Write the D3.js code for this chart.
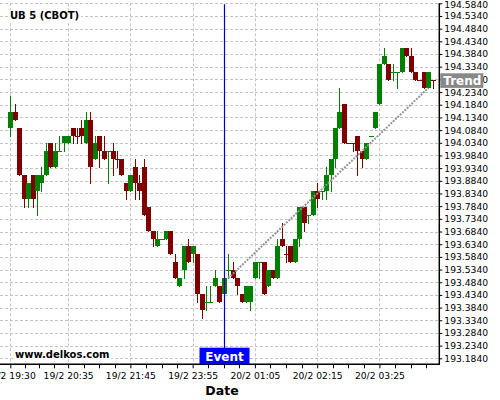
<!DOCTYPE html>
<html>
<head>
<meta charset="utf-8">
<script src="https://cdn.jsdelivr.net/npm/d3@7"></script>
<style>
  html, body { margin: 0; padding: 0; background: #fff; }
  svg { display: block; font-family: "DejaVu Sans", sans-serif; }
</style>
</head>
<body>
<svg id="chart" width="500" height="400"></svg>
<script>
// ---- data (prices in 1/32 ticks relative to BASE) ----
const BASE = 194;
const TICK = 1 / 32;
const title = "UB 5 (CBOT)";
const opens = [3,5,3,-3,-6,-3,-5,-4,-3,1, -2,0,1,1,3,2,3,1,4,-1, 2,0,0,0,-1,-1,-4,-5,-2,-4,
  -2,-7,-10,-12,-11,-11,-10,-14,-17,-15, -12,-13,-13,-18,-19,-19,-17,-17,-18,-15,
  -15,-16,-18,-19,-19,-16,-14,-14,-17,-15, -16,-11,-13,-12,-14,-11,-7,-8,-8,-5,
  -5,-5,-3,-1,3,6,1,1,2,0, -1,2,3,6,11,11,10,10,10,13, 12,10,9,10,8,9];
const highs = [7,6,3,-3,-4,-3,-3,-2,1,1, 1,2,2,2,3,3,4,5,5,2, 2,2,0,1,0,-1,-4,-3,-1,-3,
  -1,-7,-10,-10,-11,-10,-10,-13,-16,-12, -11,-12,-13,-18,-17,-17,-15,-17,-16,-13,
  -14,-16,-18,-17,-17,-14,-14,-14,-15,-15, -11,-9,-12,-12,-11,-7,-7,-8,-5,-4,
  -5,-2,-1,3,8,6,1,1,2,0, 1,2,5,11,13,11,11,10,13,13, 13,10,9,10,10,9];
const lows = [2,4,-3,-7,-7,-7,-8,-5,-3,-2, -2,0,0,1,1,1,1,1,-4,-1, -2,-1,-4,-3,-2,-3,-6,-5,-6,-6,
  -8,-10,-12,-12,-11,-11,-13,-16,-17,-16, -14,-14,-19,-21,-20,-19,-17,-19,-18,-16,
  -16,-18,-19,-19,-20,-16,-16,-18,-17,-16, -16,-12,-14,-14,-14,-12,-10,-9,-8,-7,
  -6,-6,-5,-2,3,1,1,0,-3,-2, -1,2,3,6,11,9,9,8,10,12, 10,9,9,8,8,8];
const closes = [5,4,-3,-6,-4,-6,-3,-3,0,-2, 0,0,2,2,2,2,2,4,-2,1, 0,-1,0,-1,-1,-3,-5,-3,-4,-5,
  -8,-10,-11,-11,-11,-10,-13,-16,-16,-12, -14,-12,-18,-20,-19,-19,-16,-19,-16,-15,
  -16,-17,-19,-17,-17,-14,-14,-18,-15,-16, -12,-12,-13,-14,-11,-7,-9,-8,-5,-6,
  -5,-3,-1,3,5,1,1,1,0,-1, 1,2,5,11,12,9,10,10,13,12, 10,9,9,8,10,9];
// indices of flat (open == close) candles drawn in the "up" colour
const flatUp = [11,22,34,44,45,49,56,67,70,81,86,87];

const xTickIndex = [0, 13, 27, 41, 55, 69, 83];
const xTickLabels = ["19/2 19:30","19/2 20:35","19/2 21:45","19/2 23:55","20/2 01:05","20/2 02:15","20/2 03:25"];
const yTickLabels = ["193.1840","193.2340","193.2840","193.3340","193.3840","193.4340","193.4840","193.5340",
  "193.5840","193.6340","193.6840","193.7340","193.7840","193.8340","193.8840","193.9340","193.9840",
  "194.0340","194.0840","194.1340","194.1840","194.2340","194.2840","194.3340","194.3840","194.4340",
  "194.4840","194.5340","194.5840"];
const eventIndex = 48;
const eventLabel = "Event";
const trendIdx = [49, 94];
const trendTicks = [-16, 8];
const trendLabel = "Trend";
const xAxisTitle = "Date";
const watermark = "www.delkos.com";

// ---- layout ----
const svg = d3.select("#chart");
const plot = { left: 0, right: 439.3, top: 3.3, bottom: 364.3 };
const UP = "#008000", DOWN = "#800000";
const GRID = "#c4c4c4";

const price = t => BASE + t * TICK;
const data = opens.map((o, i) => ({
  i, o: price(o), h: price(highs[i]), l: price(lows[i]), c: price(closes[i]),
  up: closes[i] > o || (closes[i] === o && flatUp.includes(i))
}));

const x = d3.scaleLinear().domain([0, opens.length - 1]).range([10.3, 432.8]);
const y = d3.scaleLinear().domain([193.1604, 194.584]).range([plot.bottom, plot.top]);

// grid - horizontal
const yTickVals = yTickLabels.map(Number);
svg.append("g").selectAll("line").data(yTickVals).join("line")
  .attr("x1", plot.left).attr("x2", plot.right)
  .attr("y1", d => Math.round(y(d)) + 0.5).attr("y2", d => Math.round(y(d)) + 0.5)
  .attr("stroke", GRID).attr("stroke-width", 1).attr("stroke-dasharray", "3,2");

// grid - vertical
svg.append("g").selectAll("line").data(xTickIndex).join("line")
  .attr("x1", d => Math.round(x(d)) + 0.5).attr("x2", d => Math.round(x(d)) + 0.5)
  .attr("y1", plot.top).attr("y2", plot.bottom)
  .attr("stroke", GRID).attr("stroke-width", 1).attr("stroke-dasharray", "3,2");

// title with white background
const tg = svg.append("g");
const tt = tg.append("text").attr("x", 10).attr("y", 19.3)
  .attr("font-size", 10).attr("font-weight", "bold").attr("fill", "#000").text(title);
const tb = tt.node().getBBox();
tg.insert("rect", "text").attr("x", tb.x - 2).attr("y", tb.y).attr("width", tb.width + 4).attr("height", tb.height).attr("fill", "#fff");

// watermark
const wg = svg.append("g");
const wt = wg.append("text").attr("x", 15).attr("y", 357.5)
  .attr("font-size", 10).attr("font-weight", "bold").attr("fill", "#000").text(watermark);
const wb = wt.node().getBBox();
wg.insert("rect", "text").attr("x", wb.x - 2).attr("y", wb.y).attr("width", wb.width + 4).attr("height", wb.height).attr("fill", "#fff");

// candles
const cg = svg.append("g");
data.forEach(d => {
  const col = d.up ? UP : DOWN;
  const cx = Math.round(x(d.i));
  cg.append("line")
    .attr("x1", cx + 0.5).attr("x2", cx + 0.5)
    .attr("y1", Math.round(y(d.h))).attr("y2", Math.round(y(d.l)) + 1)
    .attr("stroke", col).attr("stroke-width", 1);
  const yt = Math.round(y(Math.max(d.o, d.c)));
  const yb = Math.round(y(Math.min(d.o, d.c)));
  cg.append("rect")
    .attr("x", cx - 2).attr("width", 5)
    .attr("y", yt).attr("height", Math.max(1, yb - yt))
    .attr("fill", col);
});

// trend line (extended to the price axis for the label)
const tx0 = x(trendIdx[0]), ty0 = y(price(trendTicks[0]));
const tx1 = x(trendIdx[1]), ty1 = y(price(trendTicks[1]));
svg.append("line")
  .attr("x1", tx0).attr("y1", ty0).attr("x2", tx1).attr("y2", ty1)
  .attr("stroke", "#969696").attr("stroke-width", 2).attr("stroke-dasharray", "2,1.2");
const slope = (ty1 - ty0) / (tx1 - tx0);
const tyAxis = ty1 + slope * (plot.right - tx1);

// event line
const ex = Math.round(x(eventIndex)) + 0.5;
svg.append("line").attr("x1", ex).attr("x2", ex).attr("y1", plot.top + 1).attr("y2", plot.bottom)
  .attr("stroke", "#0000c8").attr("stroke-width", 1.2);

// axes
const yAxis = d3.axisRight(y).tickValues(yTickVals).tickFormat((d, i) => yTickLabels[i]).tickSize(3).tickPadding(2);
const ya = svg.append("g").attr("transform", `translate(${plot.right},0)`).call(yAxis);
ya.select(".domain").remove();
ya.selectAll("line").attr("stroke", "#000");
ya.selectAll("text").attr("font-size", 9.2).attr("font-family", "DejaVu Sans").attr("fill", "#000");
// keep the topmost label fully inside the picture
ya.selectAll(".tick").filter((d, i) => i === yTickVals.length - 1).select("text").attr("dy", "0.5em");

// x minor ticks
const minor = [];
for (let k = 0; k < xTickIndex.length - 1; k++) {
  for (let q = 1; q < 4; q++) minor.push(xTickIndex[k] + (xTickIndex[k + 1] - xTickIndex[k]) * q / 4);
}
[3.5, 7, 10.5].forEach(s => minor.push(xTickIndex[xTickIndex.length - 1] + s));
const xAxis = d3.axisBottom(x).tickValues(xTickIndex).tickFormat((d, i) => xTickLabels[i]).tickSize(4).tickPadding(4);
const xa = svg.append("g").attr("transform", `translate(0,${plot.bottom})`).call(xAxis);
xa.select(".domain").remove();
xa.selectAll("line").attr("stroke", "#000");
xa.selectAll("text").attr("font-size", 9.2).attr("font-family", "DejaVu Sans").attr("fill", "#000");
svg.append("g").selectAll("line").data(minor).join("line")
  .attr("x1", d => Math.round(x(d)) + 0.5).attr("x2", d => Math.round(x(d)) + 0.5)
  .attr("y1", plot.bottom).attr("y2", plot.bottom + 4).attr("stroke", "#000");

// axis lines
svg.append("line").attr("x1", plot.left).attr("x2", plot.right + 0.75).attr("y1", plot.bottom).attr("y2", plot.bottom)
  .attr("stroke", "#000").attr("stroke-width", 1.5);
svg.append("line").attr("x1", plot.right).attr("x2", plot.right).attr("y1", plot.top).attr("y2", plot.bottom)
  .attr("stroke", "#000").attr("stroke-width", 1.5);

// event label
svg.append("rect").attr("x", ex - 25).attr("y", 347.7).attr("width", 50).attr("height", plot.bottom - 347.7).attr("fill", "#0000ff");
svg.append("text").attr("x", ex).attr("y", 360.5).attr("text-anchor", "middle")
  .attr("font-size", 12).attr("font-weight", "bold").attr("fill", "#fff").text(eventLabel);

// trend label
const tcy = tyAxis + 3;
svg.append("rect").attr("x", plot.right + 1).attr("y", tcy - 7.3).attr("width", 43).attr("height", 14.6).attr("fill", "#888888");
svg.append("text").attr("x", plot.right + 23).attr("y", tcy + 4.3).attr("text-anchor", "middle")
  .attr("font-size", 12).attr("font-weight", "bold").attr("fill", "#fff").text(trendLabel);

// x axis title
svg.append("text").attr("x", 222).attr("y", 394.5).attr("text-anchor", "middle")
  .attr("font-size", 12.5).attr("font-weight", "bold").attr("fill", "#000").text(xAxisTitle);
</script>
</body>
</html>
